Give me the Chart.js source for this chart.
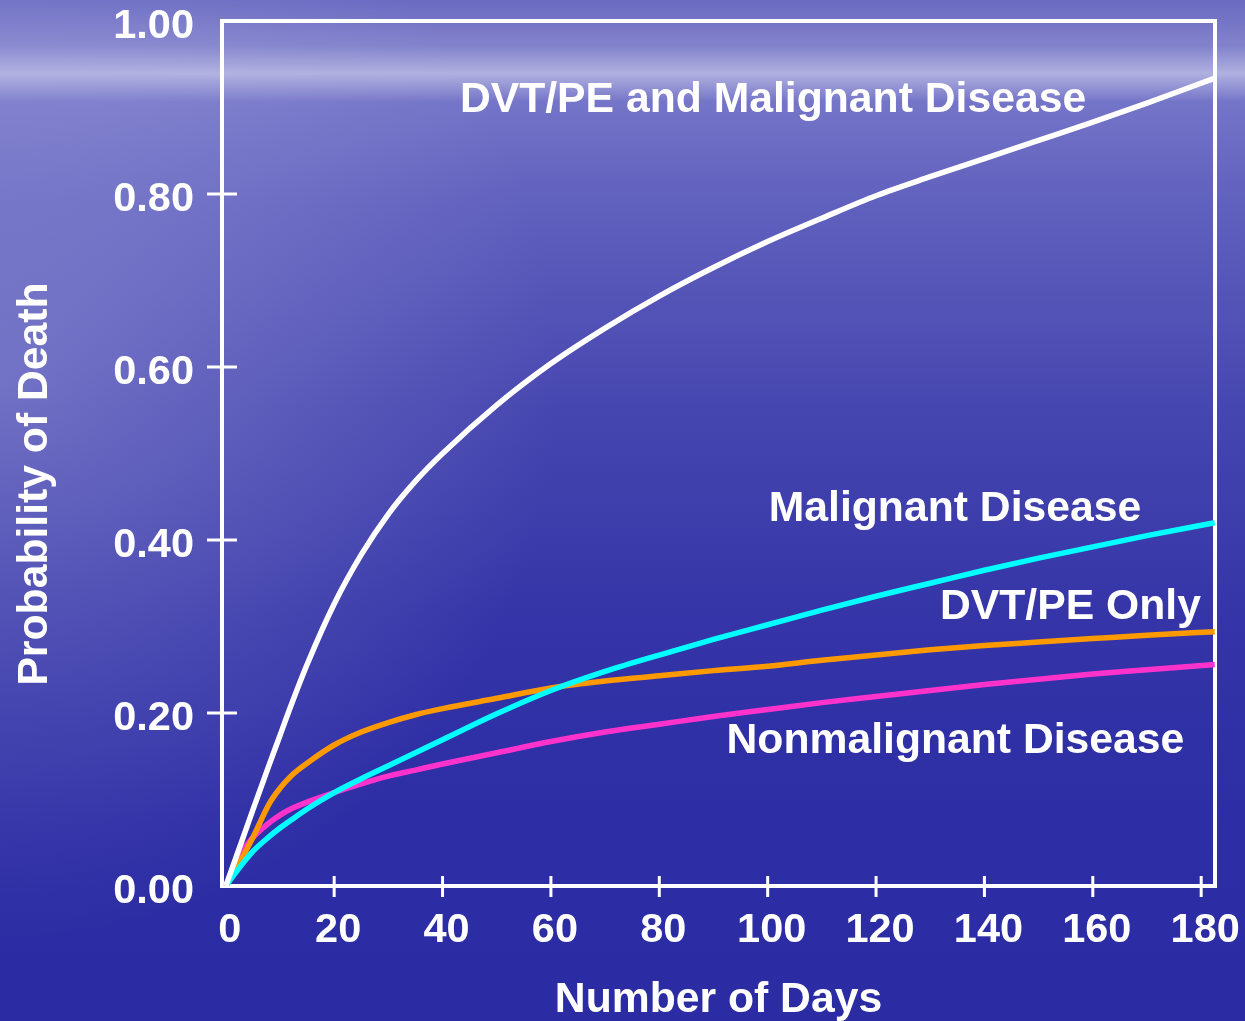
<!DOCTYPE html>
<html>
<head>
<meta charset="utf-8">
<script src="https://cdn.jsdelivr.net/npm/chart.js@4"></script>
<style>
  html, body { margin: 0; padding: 0; background: #2c2ca4; }
  #wrap { width: 1245px; height: 1021px; }
</style>
</head>
<body>
<div id="wrap"><canvas id="chart" width="1245" height="1021"></canvas></div>
<script>
// days
const days = [0, 2, 5, 8, 10, 12, 15, 20, 25, 30, 35, 40, 50, 60, 70, 80, 90, 100, 110, 120, 130, 140, 150, 160, 170, 182.5];

// probability of death per group
const dvtMalignant = [0, 0.035, 0.088, 0.140, 0.174, 0.208, 0.256, 0.326, 0.383, 0.430, 0.468, 0.500, 0.556, 0.604, 0.645, 0.682, 0.715, 0.745, 0.772, 0.798, 0.820, 0.841, 0.862, 0.883, 0.905, 0.934];
const malignant    = [0, 0.017, 0.040, 0.057, 0.067, 0.076, 0.089, 0.108, 0.124, 0.139, 0.154, 0.169, 0.199, 0.226, 0.248, 0.267, 0.285, 0.302, 0.319, 0.335, 0.350, 0.365, 0.379, 0.392, 0.405, 0.420];
const dvtOnly      = [0, 0.021, 0.056, 0.095, 0.113, 0.127, 0.142, 0.163, 0.178, 0.189, 0.198, 0.205, 0.217, 0.229, 0.237, 0.243, 0.249, 0.254, 0.261, 0.267, 0.273, 0.278, 0.282, 0.286, 0.290, 0.294];
const nonmalignant = [0, 0.031, 0.056, 0.073, 0.082, 0.089, 0.097, 0.108, 0.118, 0.127, 0.134, 0.141, 0.154, 0.167, 0.178, 0.187, 0.196, 0.204, 0.212, 0.219, 0.226, 0.233, 0.239, 0.245, 0.250, 0.256];

const xTicks = [0, 20, 40, 60, 80, 100, 120, 140, 160, 180];
const yTicks = [0, 0.2, 0.4, 0.6, 0.8, 1.0];

// curve labels, anchored in data units (left edge, middle of text)
const seriesNames = ['DVT/PE and Malignant Disease', 'Malignant Disease', 'DVT/PE Only', 'Nonmalignant Disease'];
const labelDays  = [43.2, 100.2, 131.8, 92.4];
const labelProbs = [0.908, 0.435, 0.322, 0.167];

const FONT = '"Liberation Sans", Arial, sans-serif';

function toPoints(values) {
  return days.map((d, i) => ({ x: d, y: values[i] }));
}

function lineSet(values, color) {
  return {
    data: toPoints(values),
    borderColor: color,
    borderWidth: 5.5,
    pointRadius: 0,
    fill: false,
    cubicInterpolationMode: 'monotone'
  };
}

// sea-like backdrop
const backdrop = {
  id: 'backdrop',
  beforeDraw(chart) {
    const { ctx, width, height } = chart;
    ctx.save();
    const g = ctx.createLinearGradient(0, 0, 0, height);
    g.addColorStop(0.00, '#6a6ac2');
    g.addColorStop(0.045, '#8282cc');
    g.addColorStop(0.072, '#b0b0e0');
    g.addColorStop(0.10, '#7474c8');
    g.addColorStop(0.20, '#6060be');
    g.addColorStop(0.40, '#4646b0');
    g.addColorStop(0.60, '#3535a8');
    g.addColorStop(0.80, '#2d2da5');
    g.addColorStop(1.00, '#2b2ba3');
    ctx.fillStyle = g;
    ctx.fillRect(0, 0, width, height);
    const r = ctx.createRadialGradient(0, 380, 0, 0, 380, 560);
    r.addColorStop(0, 'rgba(190,190,235,0.35)');
    r.addColorStop(1, 'rgba(190,190,235,0)');
    ctx.fillStyle = r;
    ctx.fillRect(0, 0, width, height);
    ctx.restore();
  }
};

// frame round the plot, ticks crossing the axes, y title and curve labels
const frame = {
  id: 'frame',
  beforeDatasetsDraw(chart) {
    const { ctx, chartArea: a, scales } = chart;
    ctx.save();
    ctx.strokeStyle = '#ffffff';
    ctx.lineWidth = 4;
    ctx.strokeRect(a.left, a.top, a.right - a.left, a.bottom - a.top);
    ctx.lineWidth = 3;
    ctx.beginPath();
    scales.x.ticks.forEach(t => {
      if (t.value === 0) return;
      const px = scales.x.getPixelForValue(t.value);
      ctx.moveTo(px, a.bottom - 10);
      ctx.lineTo(px, a.bottom + 11);
    });
    scales.y.ticks.forEach(t => {
      if (t.value === 0 || t.value === 1) return;
      const py = scales.y.getPixelForValue(t.value);
      ctx.moveTo(a.left - 15, py);
      ctx.lineTo(a.left + 15, py);
    });
    ctx.stroke();

    // y axis title, sits a little below the plot centre in the original
    ctx.fillStyle = '#ffffff';
    ctx.font = 'bold 42.7px ' + FONT;
    ctx.textAlign = 'center';
    ctx.textBaseline = 'middle';
    ctx.translate(35, 484);
    ctx.rotate(-Math.PI / 2);
    ctx.fillText('Probability of Death', 0, 0);
    ctx.restore();
  },
  afterDatasetsDraw(chart) {
    const { ctx, scales } = chart;
    ctx.save();
    ctx.fillStyle = '#ffffff';
    ctx.font = 'bold 42.7px ' + FONT;
    ctx.textAlign = 'left';
    ctx.textBaseline = 'middle';
    seriesNames.forEach((name, i) => {
      ctx.fillText(name, scales.x.getPixelForValue(labelDays[i]), scales.y.getPixelForValue(labelProbs[i]));
    });
    ctx.restore();
  }
};

new Chart(document.getElementById('chart'), {
  type: 'line',
  data: {
    datasets: [
      lineSet(dvtMalignant, '#ffffff'),
      lineSet(malignant, '#00ffff'),
      lineSet(dvtOnly, '#ff9900'),
      lineSet(nonmalignant, '#ff33cc')
    ]
  },
  options: {
    responsive: false,
    animation: false,
    layout: { padding: { top: 21, right: 30, left: 0, bottom: 0 } },
    plugins: { legend: { display: false }, tooltip: { enabled: false } },
    scales: {
      x: {
        type: 'linear',
        min: -0.7,
        max: 182.55,
        afterBuildTicks: s => { s.ticks = xTicks.map(v => ({ value: v })); },
        afterFit: s => { s.height = 135; s.paddingLeft = 0; s.paddingRight = 0; },
        grid: { display: false, drawTicks: false },
        border: { display: false },
        ticks: {
          color: '#ffffff',
          font: { family: FONT, size: 41.5, weight: 'bold' },
          padding: 20,
          labelOffset: 4,
          maxRotation: 0,
          autoSkip: false,
          callback: v => String(v)
        },
        title: {
          display: true,
          text: 'Number of Days',
          color: '#ffffff',
          font: { family: FONT, size: 42.7, weight: 'bold', lineHeight: 0.95 },
          padding: { top: 0, bottom: 0 }
        }
      },
      y: {
        min: 0,
        max: 1,
        afterBuildTicks: s => { s.ticks = yTicks.map(v => ({ value: v })); },
        afterFit: s => { s.width = 222; s.paddingTop = 0; s.paddingBottom = 0; },
        grid: { display: false, drawTicks: false },
        border: { display: false },
        ticks: {
          color: '#ffffff',
          font: { family: FONT, size: 41.5, weight: 'bold' },
          padding: 28,
          labelOffset: 6,
          autoSkip: false,
          callback: v => Number(v).toFixed(2)
        },
        title: { display: false }
      }
    }
  },
  plugins: [backdrop, frame]
});
</script>
</body>
</html>
